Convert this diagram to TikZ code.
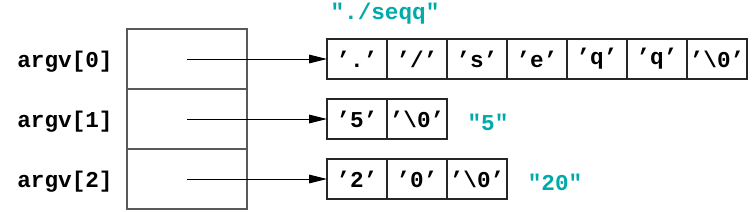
\documentclass[tikz,border=0pt]{standalone}
\usepackage{fontspec}
\newfontfamily\codefont{Liberation Mono}
\usetikzlibrary{arrows.meta, positioning}
\definecolor{strteal}{RGB}{0, 170, 170}

\tikzset{
  ptrcell/.style={draw=black!65, line width=0.8pt, minimum width=90pt,
    minimum height=45pt, inner sep=0pt, outer sep=0pt},
  chcell/.style={draw=black!85, line width=0.8pt, minimum width=45pt,
    minimum height=30pt, inner sep=0pt, outer sep=0pt,
    font=\codefont\bfseries\fontsize{17}{20}\selectfont},
  arglbl/.style={font=\codefont\bfseries\fontsize{17}{20}\selectfont},
  strlbl/.style={font=\codefont\bfseries\fontsize{17}{20}\selectfont, text=strteal},
  ptrarrow/.style={line width=0.7pt, -{Triangle[length=13.5pt, width=6.5pt]}}
}

\begin{document}
\begin{tikzpicture}[x=0.75pt, y=-0.75pt]
  \useasboundingbox (0,0) rectangle (752,211);

  % Pointer array argv
  \foreach \r in {0,1,2} {
    \node[ptrcell] (p\r) at (187, {59+60*\r}) {};
    \node[arglbl] (a\r) at (65, {62+60*\r}) {argv[\r]};
  }

  % String "./seqq"
  \foreach \ch [count=\i from 0] in {.,/,s,e,q,q,\textbackslash0}
    \node[chcell] (s0-\i) at ({357+60*\i}, 59) {’\ch’};
  \node[strlbl] (str0) at (385, 14) {"./seqq"};

  % String "5"
  \foreach \ch [count=\i from 0] in {5,\textbackslash0}
    \node[chcell] (s1-\i) at ({357+60*\i}, 119) {’\ch’};
  \node[strlbl] (str1) at (488, 122) {"5"};

  % String "20"
  \foreach \ch [count=\i from 0] in {2,0,\textbackslash0}
    \node[chcell] (s2-\i) at ({357+60*\i}, 179) {’\ch’};
  \node[strlbl] (str2) at (555, 182) {"20"};

  % Pointers
  \foreach \r in {0,1,2}
    \draw[ptrarrow] (p\r.center) -- (s\r-0.west);
\end{tikzpicture}
\end{document}
